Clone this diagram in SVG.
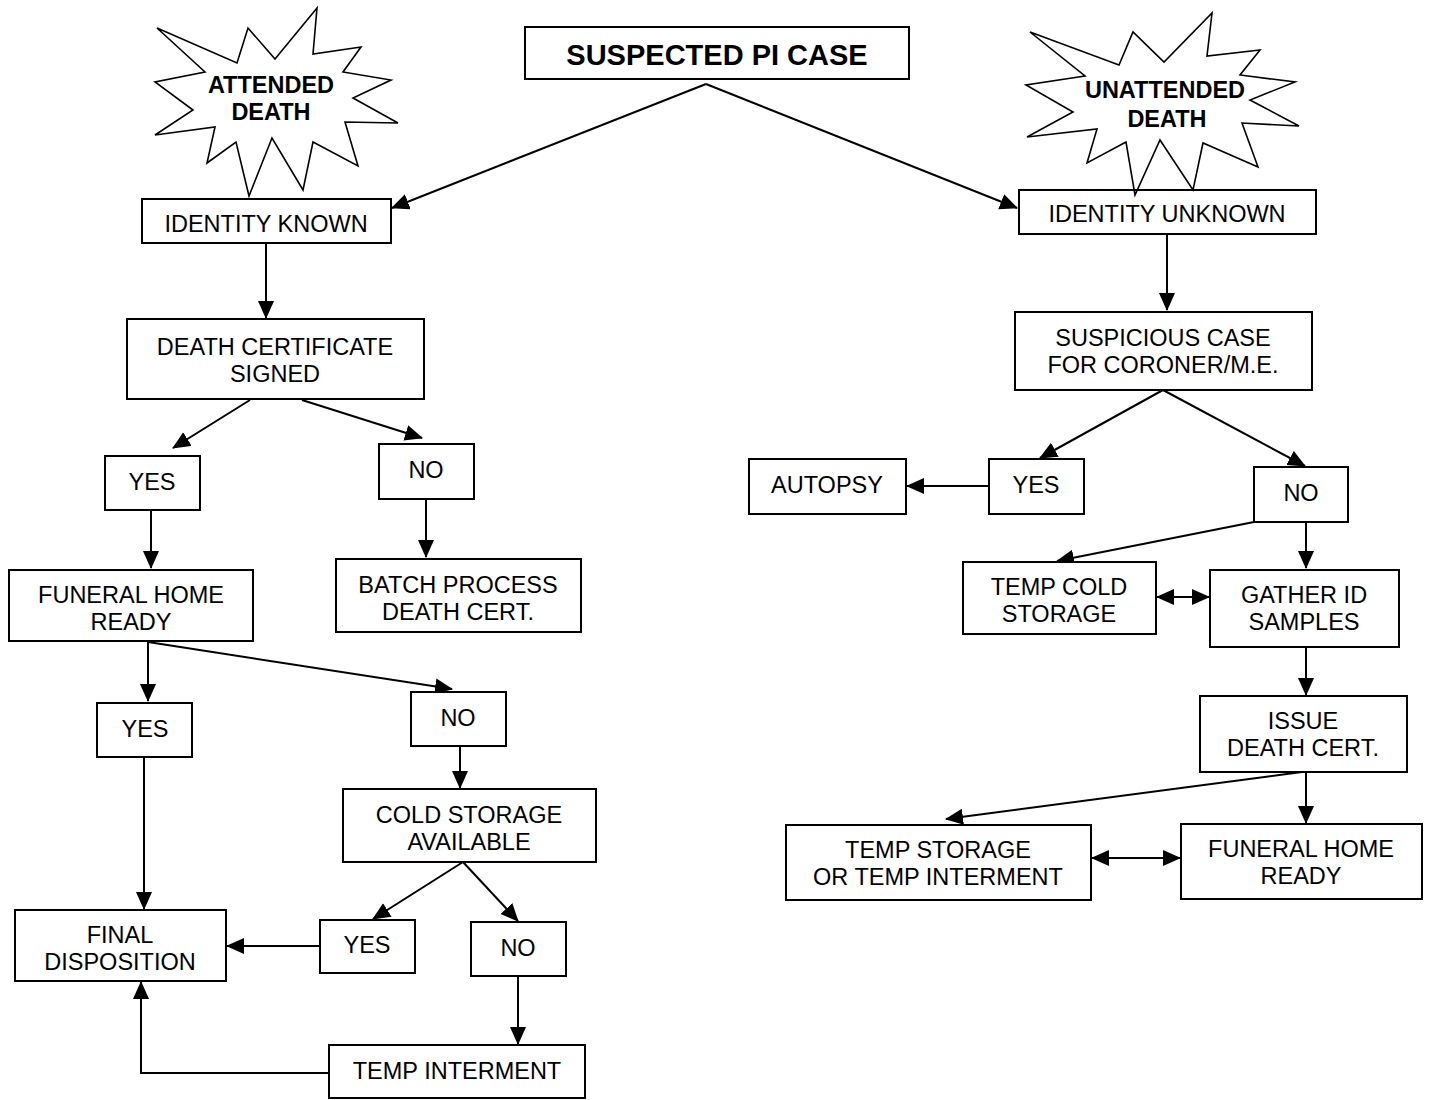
<svg xmlns="http://www.w3.org/2000/svg" width="1431" height="1100" viewBox="0 0 1431 1100">
  <defs>
    <marker id="arrow" markerUnits="userSpaceOnUse" markerWidth="19" markerHeight="17" refX="17" refY="8" orient="auto-start-reverse">
      <path d="M0,0 L18,8 L0,16 Z" fill="#000"/>
    </marker>
    <style>
      .box { fill: #fff; stroke: #000; stroke-width: 2; }
      .star { fill: none; stroke: #000; stroke-width: 1.6; stroke-linejoin: miter; }
      .lbl { font-family: "Liberation Sans", Arial, sans-serif; font-size: 23.5px; fill: #000; text-anchor: middle; }
      .bold { font-weight: bold; }
      .title { font-size: 29px; }
      .conn { fill: none; stroke: #000; stroke-width: 2; }
      .conn path, .conn line, .conn polyline { marker-end: url(#arrow); }
      .both { marker-start: url(#arrow); }
    </style>
  </defs>
  <rect width="1431" height="1100" fill="#fff"/>

  <!-- connectors -->
  <g id="connectors" class="conn">
    <line x1="706" y1="84" x2="392" y2="208"/>
    <line x1="706" y1="84" x2="1017" y2="208"/>
    <line x1="266" y1="243" x2="266" y2="318"/>
    <line x1="250" y1="400" x2="173" y2="448"/>
    <line x1="302" y1="400" x2="422" y2="438"/>
    <line x1="151" y1="510" x2="151" y2="568"/>
    <line x1="426" y1="499" x2="426" y2="557"/>
    <line x1="148" y1="642" x2="148" y2="701"/>
    <line x1="148" y1="642" x2="452" y2="689"/>
    <line x1="144" y1="757" x2="144" y2="909"/>
    <line x1="460" y1="746" x2="460" y2="788"/>
    <line x1="463" y1="862" x2="373" y2="919"/>
    <line x1="463" y1="862" x2="518" y2="921"/>
    <line x1="320" y1="946" x2="227" y2="946"/>
    <line x1="518" y1="976" x2="518" y2="1044"/>
    <polyline points="329,1073 141,1073 141,982"/>
    <line x1="1167" y1="234" x2="1167" y2="310"/>
    <line x1="1163" y1="390" x2="1040" y2="458"/>
    <line x1="1163" y1="390" x2="1305" y2="466"/>
    <line x1="989" y1="486" x2="907" y2="486"/>
    <line x1="1254" y1="522" x2="1057" y2="561"/>
    <line x1="1306" y1="522" x2="1306" y2="568"/>
    <line class="both" x1="1157" y1="597" x2="1209" y2="597"/>
    <line x1="1306" y1="647" x2="1306" y2="695"/>
    <line x1="1302" y1="772" x2="946" y2="819"/>
    <line x1="1306" y1="772" x2="1306" y2="823"/>
    <line class="both" x1="1092" y1="858" x2="1180" y2="858"/>
  </g>

  <!-- burst callouts -->
  <g id="attended-death">
    <polygon class="star" points="157,28 237,63 248,28 275,59 317,8 313,54 361,47 343,72 391,80 353,98 398,123 345,122 358,166 313,142 303,190 272,138 249,196 236,142 207,163 215,127 155,135 193,110 155,82 205,72"/>
    <text class="lbl bold" x="271" y="93">ATTENDED</text>
    <text class="lbl bold" x="271" y="120">DEATH</text>
  </g>

  <!-- left branch -->
  <g id="suspected-pi-case">
    <rect class="box" x="525" y="27" width="384" height="52"/>
    <text class="lbl bold title" x="717" y="65">SUSPECTED PI CASE</text>
  </g>
  <g id="identity-known">
    <rect class="box" x="142" y="199" width="249" height="44"/>
    <text class="lbl" x="266" y="232">IDENTITY KNOWN</text>
  </g>
  <g id="death-cert-signed">
    <rect class="box" x="127" y="319" width="297" height="80"/>
    <text class="lbl" x="275" y="355">DEATH CERTIFICATE</text>
    <text class="lbl" x="275" y="382">SIGNED</text>
  </g>
  <g id="signed-yes">
    <rect class="box" x="105" y="456" width="95" height="54"/>
    <text class="lbl" x="152" y="490">YES</text>
  </g>
  <g id="signed-no">
    <rect class="box" x="379" y="444" width="95" height="55"/>
    <text class="lbl" x="426" y="478">NO</text>
  </g>
  <g id="batch-process">
    <rect class="box" x="336" y="559" width="245" height="73"/>
    <text class="lbl" x="458" y="593">BATCH PROCESS</text>
    <text class="lbl" x="458" y="620">DEATH CERT.</text>
  </g>
  <g id="funeral-home-ready-left">
    <rect class="box" x="9" y="570" width="244" height="71"/>
    <text class="lbl" x="131" y="603">FUNERAL HOME</text>
    <text class="lbl" x="131" y="630">READY</text>
  </g>
  <g id="funeral-yes">
    <rect class="box" x="97" y="703" width="95" height="54"/>
    <text class="lbl" x="145" y="737">YES</text>
  </g>
  <g id="funeral-no">
    <rect class="box" x="411" y="692" width="95" height="54"/>
    <text class="lbl" x="458" y="726">NO</text>
  </g>
  <g id="cold-storage-available">
    <rect class="box" x="343" y="789" width="253" height="73"/>
    <text class="lbl" x="469" y="823">COLD STORAGE</text>
    <text class="lbl" x="469" y="850">AVAILABLE</text>
  </g>
  <g id="cold-yes">
    <rect class="box" x="320" y="920" width="95" height="53"/>
    <text class="lbl" x="367" y="953">YES</text>
  </g>
  <g id="cold-no">
    <rect class="box" x="471" y="922" width="95" height="54"/>
    <text class="lbl" x="518" y="956">NO</text>
  </g>
  <g id="final-disposition">
    <rect class="box" x="15" y="910" width="211" height="71"/>
    <text class="lbl" x="120" y="943">FINAL</text>
    <text class="lbl" x="120" y="970">DISPOSITION</text>
  </g>
  <g id="temp-interment">
    <rect class="box" x="329" y="1045" width="256" height="53"/>
    <text class="lbl" x="457" y="1079">TEMP INTERMENT</text>
  </g>

  <!-- right branch -->
  <g id="identity-unknown">
    <rect class="box" x="1019" y="190" width="297" height="44"/>
    <text class="lbl" x="1167" y="222">IDENTITY UNKNOWN</text>
  </g>
  <g id="suspicious-case">
    <rect class="box" x="1015" y="312" width="297" height="78"/>
    <text class="lbl" x="1163" y="346">SUSPICIOUS CASE</text>
    <text class="lbl" x="1163" y="373">FOR CORONER/M.E.</text>
  </g>
  <g id="suspicious-yes">
    <rect class="box" x="989" y="459" width="95" height="55"/>
    <text class="lbl" x="1036" y="493">YES</text>
  </g>
  <g id="autopsy">
    <rect class="box" x="749" y="459" width="157" height="55"/>
    <text class="lbl" x="827" y="493">AUTOPSY</text>
  </g>
  <g id="suspicious-no">
    <rect class="box" x="1254" y="467" width="94" height="55"/>
    <text class="lbl" x="1301" y="501">NO</text>
  </g>
  <g id="temp-cold-storage">
    <rect class="box" x="963" y="562" width="193" height="72"/>
    <text class="lbl" x="1059" y="595">TEMP COLD</text>
    <text class="lbl" x="1059" y="622">STORAGE</text>
  </g>
  <g id="gather-id-samples">
    <rect class="box" x="1210" y="570" width="189" height="77"/>
    <text class="lbl" x="1304" y="603">GATHER ID</text>
    <text class="lbl" x="1304" y="630">SAMPLES</text>
  </g>
  <g id="issue-death-cert">
    <rect class="box" x="1200" y="696" width="207" height="76"/>
    <text class="lbl" x="1303" y="729">ISSUE</text>
    <text class="lbl" x="1303" y="756">DEATH CERT.</text>
  </g>
  <g id="temp-storage-or-interment">
    <rect class="box" x="786" y="825" width="305" height="75"/>
    <text class="lbl" x="938" y="858">TEMP STORAGE</text>
    <text class="lbl" x="938" y="885">OR TEMP INTERMENT</text>
  </g>
  <g id="funeral-home-ready-right">
    <rect class="box" x="1181" y="824" width="241" height="75"/>
    <text class="lbl" x="1301" y="857">FUNERAL HOME</text>
    <text class="lbl" x="1301" y="884">READY</text>
  </g>

  <g id="unattended-death">
    <polygon class="star" points="1030,32 1119,65 1133,32 1164,62 1212,13 1207,56 1260,50 1240,75 1295,82 1250,100 1299,126 1242,123 1258,167 1203,143 1193,190 1160,140 1135,195 1126,142 1087,163 1097,129 1027,137 1073,112 1026,85 1085,76"/>
    <text class="lbl bold" x="1165" y="98">UNATTENDED</text>
    <text class="lbl bold" x="1167" y="127">DEATH</text>
  </g>
</svg>
